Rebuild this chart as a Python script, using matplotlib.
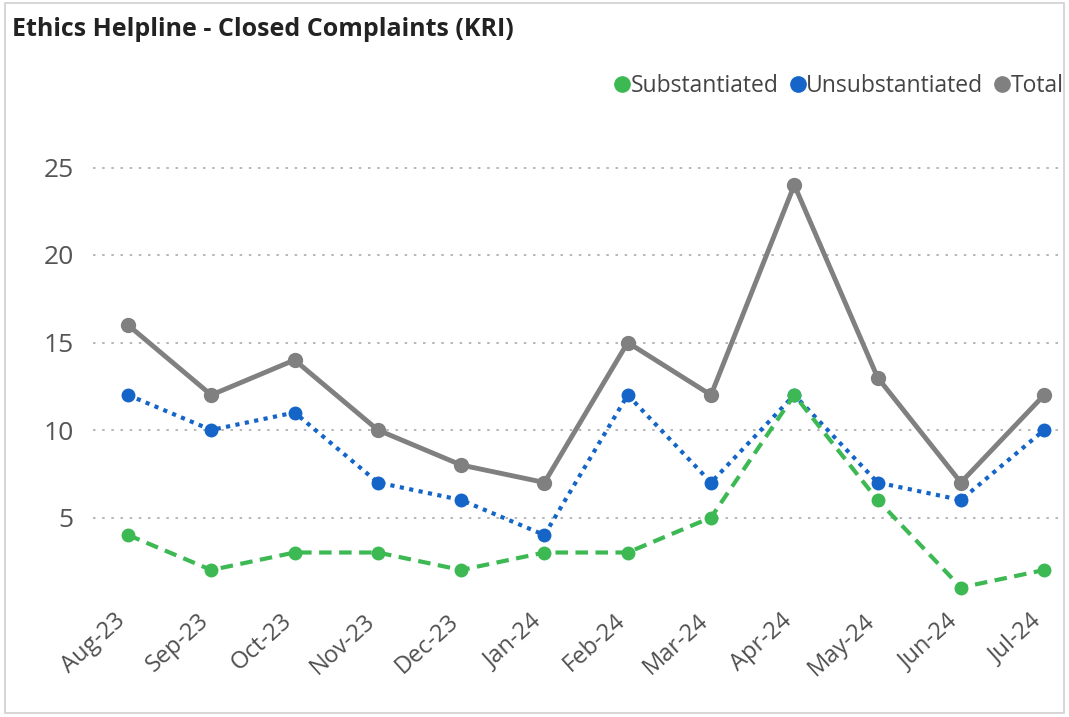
import matplotlib
matplotlib.use("Agg")
import matplotlib.pyplot as plt
from matplotlib.lines import Line2D
from matplotlib.patches import Rectangle
from matplotlib.transforms import ScaledTranslation

months = ["Aug-23", "Sep-23", "Oct-23", "Nov-23", "Dec-23", "Jan-24",
          "Feb-24", "Mar-24", "Apr-24", "May-24", "Jun-24", "Jul-24"]
substantiated = [4, 2, 3, 3, 2, 3, 3, 5, 12, 6, 1, 2]
unsubstantiated = [12, 10, 11, 7, 6, 4, 12, 7, 12, 7, 6, 10]
total = [16, 12, 14, 10, 8, 7, 15, 12, 24, 13, 7, 12]
yticks = [5, 10, 15, 20, 25]

c_sub = "#3DB954"
c_uns = "#1565C8"
c_tot = "#808080"

plt.rcParams['font.family'] = ['Open Sans', 'DejaVu Sans']

fig = plt.figure(figsize=(10.69, 7.17), dpi=100)
fig.patch.set_facecolor("white")
fig.add_artist(Rectangle((0.005, 0.006), 0.99, 0.99, transform=fig.transFigure,
                         fill=False, edgecolor="#d0d0d0", lw=1.2))

ax = fig.add_axes([93/1069, 1 - 605/717, (1060-93)/1069, (605-150)/717])
x = list(range(len(months)))

ax.plot(x, total, color=c_tot, lw=3.5, marker="o", ms=10, solid_capstyle="round", zorder=3)
ax.plot(x, unsubstantiated, color=c_uns, lw=3, ls=(0, (1, 1.3)), marker="o", ms=9, zorder=4)
ax.plot(x, substantiated, color=c_sub, lw=3, ls=(0, (3, 1.8)), marker="o", ms=9, zorder=5)

ax.set_xlim(-0.42, 11.19)
ax.set_ylim(0, 26)
ax.set_yticks(yticks)
ax.set_xticks(x)
ax.set_xticklabels(months, rotation=42, ha="right", rotation_mode="anchor",
                   fontsize=17, color="#505050")
ax.tick_params(axis="y", labelsize=19, labelcolor="#555555", length=0, pad=14)
ax.tick_params(axis="x", length=0, pad=3)
off = ScaledTranslation(-14/100, 0, fig.dpi_scale_trans)
for lab in ax.get_xticklabels():
    lab.set_transform(lab.get_transform() + off)
ax.grid(axis="y", color="#aaaaaa", ls=(0, (1.5, 4)), lw=1.2)
ax.set_axisbelow(True)
for s in ax.spines.values():
    s.set_visible(False)

fig.text(12/1069, 1 - 30/717, "Ethics Helpline - Closed Complaints (KRI)",
         fontsize=18, fontweight="bold", color="#222222", va="center", ha="left")

handles = [Line2D([], [], color=c, marker="o", ls="", ms=11) for c in (c_sub, c_uns, c_tot)]
fig.legend(handles, ["Substantiated", "Unsubstantiated", "Total"],
           loc="center right", bbox_to_anchor=(1084/1069, 1 - 86/717), ncol=3,
           frameon=False, fontsize=16.5, handletextpad=-0.2, columnspacing=0.3,
           labelcolor="#444444", handlelength=1.1)

fig.savefig("out.png", dpi=100, facecolor="white")
